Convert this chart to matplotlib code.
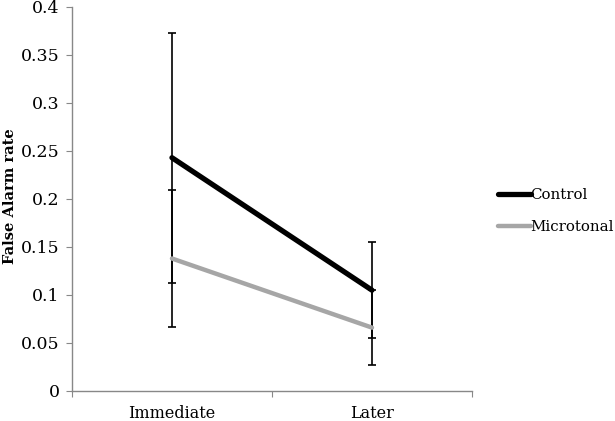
import matplotlib
matplotlib.use('Agg')
from matplotlib import pyplot as plt

# Data.
conditions = ['Immediate', 'Later']
control = [0.243, 0.105]
control_err = [0.130, 0.050]
microtonal = [0.138, 0.066]
microtonal_err = [0.071, 0.039]

plt.rcParams['font.family'] = ['DejaVu Serif']

fig = plt.figure(figsize=(6.15, 4.21), dpi=100)
ax = fig.add_axes([0.117, 0.0713, 0.6505, 0.9121])

x = [0.5, 1.5]
ax.errorbar(x, control, yerr=control_err, fmt='none', ecolor='black',
            elinewidth=1.2, capsize=3, capthick=1.2, zorder=2)
ax.errorbar(x, microtonal, yerr=microtonal_err, fmt='none', ecolor='black',
            elinewidth=1.2, capsize=3, capthick=1.2, zorder=2)
ax.plot(x, control, color='black', linewidth=3.8, solid_capstyle='round',
        label='Control', zorder=4)
ax.plot(x, microtonal, color='#a6a6a6', linewidth=3.2, solid_capstyle='round',
        label='Microtonal', zorder=3)

# Format axes.
ax.set_xlim(0, 2)
ax.set_ylim(0, 0.4)
ax.set_yticks([0, 0.05, 0.1, 0.15, 0.2, 0.25, 0.3, 0.35, 0.4])
ax.set_yticklabels(['0', '0.05', '0.1', '0.15', '0.2', '0.25', '0.3', '0.35', '0.4'])
ax.set_xticks([0, 1, 2])
ax.set_xticklabels([])
ax.set_xticks(x, minor=True)
ax.set_xticklabels(conditions, minor=True)
ax.tick_params(axis='x', which='minor', length=0, pad=10, labelsize=11.5)
ax.tick_params(axis='x', which='major', length=4, color='#888888')
ax.tick_params(axis='y', length=4, color='#888888', labelsize=12.5, pad=5)
for side in ['top', 'right']:
    ax.spines[side].set_visible(False)
for side in ['left', 'bottom']:
    ax.spines[side].set_color('#888888')
    ax.spines[side].set_linewidth(1.0)

ax.set_ylabel('False Alarm rate', fontsize=10.5, fontweight='bold')
ax.yaxis.set_label_coords(-0.138, 0.508)

ax.legend(loc='center left', bbox_to_anchor=(1.03, 0.469), frameon=False,
          handlelength=2.2, handletextpad=0.0, fontsize=10.8, labelspacing=1.2)

fig.savefig('out.png', dpi=100)
